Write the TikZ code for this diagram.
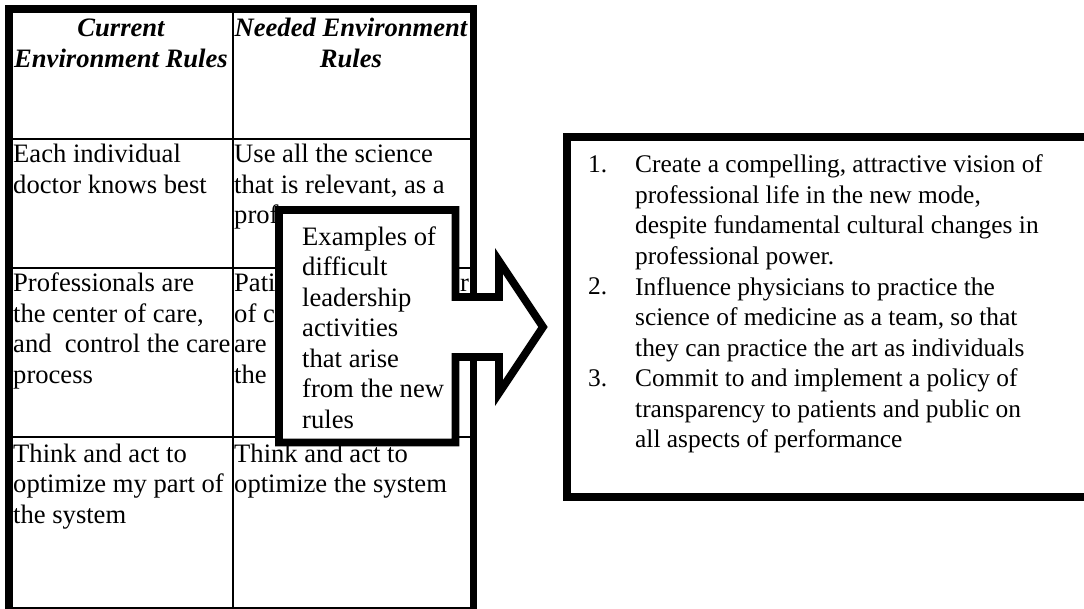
\documentclass[tikz,border=0pt]{standalone}
\usepackage{fontspec}
\setmainfont{Liberation Serif}
\begin{document}
\begin{tikzpicture}[x=1pt,y=-1pt,
	txt/.style={anchor=base west,align=left,inner sep=0pt,font=\fontsize{26.6}{30.5}\selectfont},
	itemtxt/.style={txt,font=\fontsize{25.4}{30.5}\selectfont},
	head/.style={anchor=base,align=center,inner sep=0pt,font=\fontsize{26.6}{31}\selectfont\bfseries\itshape},
	thinrule/.style={line width=1.6pt},
	heavy/.style={line width=7.8pt}]
\useasboundingbox (0,0) rectangle (1084,609);

\foreach \y in {139,268,437}{
	\draw[thinrule] (9,\y) -- (473.5,\y);
}
\draw[thinrule] (233,9) -- (233,612);
\draw[heavy] (9,9) rectangle (473.5,611);

% multi-line nodes sit on the baseline of their last line
\node[head] (curhead) at (121,68) {Current\\Environment Rules};
\node[head] (needhead) at (351,68) {Needed Environment\\Rules};

\node[txt] (cur1) at (13,193.5) {Each individual\\doctor knows best};
\node[txt] (need1) at (234,224) {Use all the science\\that is relevant, as a\\prof};
\node[txt] (cur2) at (13,383.5) {Professionals are\\the center of care,\\and\ \ control the care\\process};
\node[txt] (need2) at (234,383.5) {Pati\\of c\\are\\the};
\node[txt] (need2r) at (460,292) {r};
\node[txt] (cur3) at (13,523) {Think and act to\\optimize my part of\\the system};
\node[txt] (need3) at (234,492.5) {Think and act to\\optimize the system};

\draw[heavy,fill=white] (279,210) -- (455.5,210) -- (455.5,297) -- (499,297) -- (499,261)
	-- (543,327) -- (499,393) -- (499,357) -- (455.5,357) -- (455.5,442.5) -- (279,442.5) -- cycle;
\node[txt] (examples) at (302,428) {Examples of\\difficult\\leadership\\activities\\that arise\\from the new\\rules};

\draw[heavy] (567,137) rectangle (1095,497);
\foreach \n/\y in {1/173,2/295,3/386.5}{
	\node[itemtxt] (num\n) at (588,\y) {\n.};
}
\node[itemtxt] (item1) at (635,264.5) {Create a compelling, attractive vision of\\professional life in the new mode,\\despite fundamental cultural changes in\\professional power.};
\node[itemtxt] (item2) at (635,356) {Influence physicians to practice the\\science of medicine as a team, so that\\they can practice the art as individuals};
\node[itemtxt] (item3) at (635,447.5) {Commit to and implement a policy of\\transparency to patients and public on\\all aspects of performance};
\end{tikzpicture}
\end{document}
